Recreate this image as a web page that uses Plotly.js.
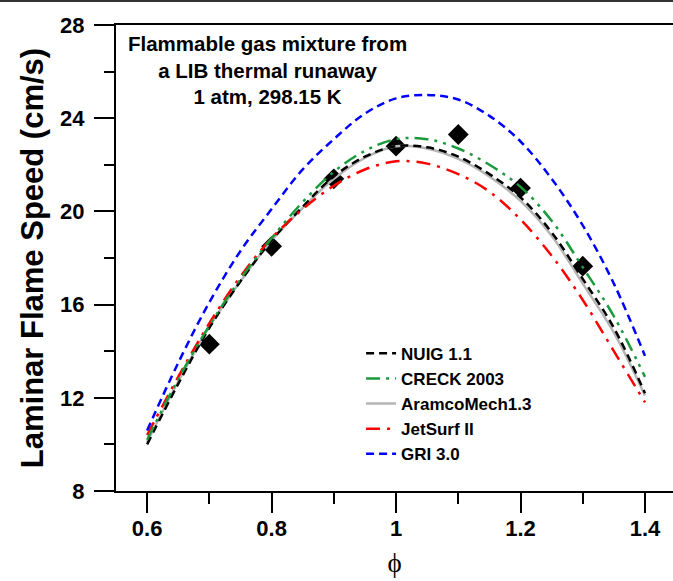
<!DOCTYPE html>
<html>
<head>
<meta charset="utf-8">
<script src="https://cdn.plot.ly/plotly-3.0.1.min.js"></script>
<style>html,body{margin:0;padding:0;background:#fff;}#chart{width:673px;height:581px;}</style>
</head>
<body>
<div id="chart"></div>
<script>
// Equivalence ratio grid for model curves
const phi = [0.6,0.65,0.7,0.75,0.8,0.85,0.9,0.95,1.0,1.05,1.1,1.15,1.2,1.25,1.3,1.35,1.4];
const nuig    = [10.0,12.6,15.0,17.0,18.75,20.2,21.5,22.35,22.8,22.75,22.35,21.6,20.6,19.1,17.1,15.0,12.2];
const creck   = [10.2,12.8,15.1,17.1,18.85,20.4,21.7,22.6,23.1,23.1,22.7,22.0,21.05,19.6,17.6,15.5,12.9];
const aramco  = [10.1,12.7,15.05,17.0,18.75,20.15,21.4,22.3,22.8,22.7,22.25,21.5,20.45,18.95,16.9,14.8,12.1];
const jetsurf = [10.4,12.9,15.2,17.2,18.85,20.1,21.1,21.8,22.15,22.05,21.6,20.85,19.65,18.1,16.2,14.0,11.8];
const gri     = [10.6,13.5,16.1,18.3,20.1,21.8,23.1,24.2,24.85,25.0,24.8,24.1,23.0,21.4,19.4,16.9,13.8];
// Experimental points
const expPhi = [0.7,0.8,0.9,1.0,1.1,1.2,1.3];
const expSL  = [14.3,18.5,21.4,22.8,23.3,21.0,17.65];
// Tick labels
const xTicks = [0.6,0.8,1.0,1.2,1.4];
const xTickText = ['0.6','0.8','1','1.2','1.4'];
const xMinor = [0.7,0.9,1.1,1.3];
const yTicks = [8,12,16,20,24,28];
const yMinor = [10,14,18,22,26];

const F = '"Liberation Sans", Arial, sans-serif';

const traces = [
  {x: expPhi, y: expSL, mode:'markers', type:'scatter', showlegend:false,
   marker:{symbol:'diamond', size:16, color:'#000'}},
  {x: phi, y: aramco, mode:'lines', name:'AramcoMech1.3', legendrank:3,
   line:{color:'#b4b4b4', width:2.5, shape:'spline'}},
  {x: phi, y: nuig, mode:'lines', name:'NUIG 1.1', legendrank:1,
   line:{color:'#000000', width:2.5, dash:'8px,5px', shape:'spline'}},
  {x: phi, y: jetsurf, mode:'lines', name:'JetSurf II', legendrank:4,
   line:{color:'#ff0000', width:2.5, dash:'14px,7px,3px,7px', shape:'spline'}},
  {x: phi, y: creck, mode:'lines', name:'CRECK 2003', legendrank:2,
   line:{color:'#1a9a3c', width:2.5, dash:'14px,6px,3px,6px,3px,6px', shape:'spline'}},
  {x: phi, y: gri, mode:'lines', name:'GRI 3.0', legendrank:5,
   line:{color:'#0000ff', width:2.5, dash:'8px,5px', shape:'spline'}}
];

const layout = {
  width:673, height:581,
  margin:{l:116, r:0, t:25, b:90},
  paper_bgcolor:'#fff', plot_bgcolor:'#fff',
  font:{family:F, color:'#000'},
  xaxis:{
    range:[0.55,1.445], tickmode:'array', tickvals:xTicks, ticktext:xTickText,
    ticks:'outside', ticklen:20, tickwidth:2, tickcolor:'#000',
    minor:{tickmode:'array', tickvals:xMinor, ticks:'outside', ticklen:11, tickwidth:2, tickcolor:'#000'},
    showline:true, linewidth:2, linecolor:'#000', mirror:true,
    showgrid:false, zeroline:false,
    tickfont:{family:F, size:22, weight:'bold'}, ticklabelstandoff:-3,
    title:{text:'ϕ', font:{family:'"Liberation Serif", "DejaVu Serif", serif', size:27}, standoff:13}
  },
  yaxis:{
    range:[8,28], tickmode:'array', tickvals:yTicks,
    ticks:'outside', ticklen:20, tickwidth:2, tickcolor:'#000',
    minor:{tickmode:'array', tickvals:yMinor, ticks:'outside', ticklen:10, tickwidth:2, tickcolor:'#000'},
    showline:true, linewidth:2, linecolor:'#000',
    showgrid:false, zeroline:false,
    tickfont:{family:F, size:22, weight:'bold'}, ticklabelstandoff:5,
    title:{text:'Laminar Flame Speed (cm/s)', font:{family:F, size:31, weight:'bold'}, standoff:7}
  },
  legend:{
    x:0.44, y:0.333, xanchor:'left', yanchor:'top',
    bgcolor:'rgba(0,0,0,0)', font:{family:F, size:17, weight:'bold'},
    tracegroupgap:0
  },
  annotations:[{
    xref:'paper', yref:'paper', x:0.272, y:0.903, xanchor:'center', yanchor:'middle',
    showarrow:false, align:'center',
    text:'Flammable gas mixture from<br>a LIB thermal runaway<br>1 atm, 298.15 K',
    font:{family:F, size:20.5, weight:'bold'}
  }],
  shapes:[{
    type:'line', xref:'paper', yref:'paper', x0:-0.25, x1:1.0, y0:1.0515, y1:1.0515,
    line:{color:'#333', width:2}
  }]
};

Plotly.newPlot('chart', traces, layout, {displayModeBar:false, staticPlot:true});
</script>
</body>
</html>
